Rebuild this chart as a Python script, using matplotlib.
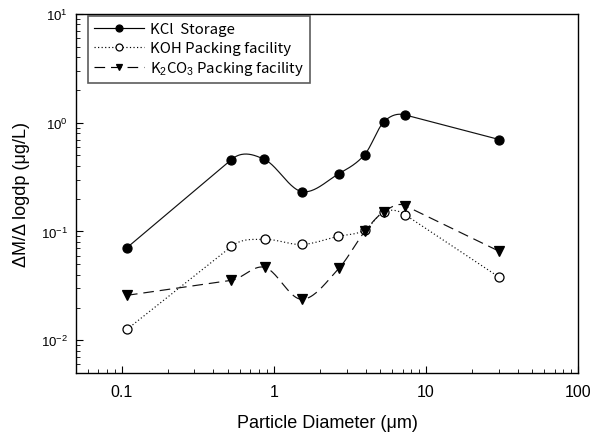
"""Particle size distribution of potassium salts, log-log plot."""
import matplotlib
matplotlib.use('Agg')
import matplotlib.pyplot as plt
import numpy as np

# particle diameter (um) for each stage
kcl_dp = [0.108, 0.524, 0.865, 1.52, 2.67, 3.95, 5.28, 7.26, 30.3]
kcl_val = [0.071, 0.458, 0.46, 0.233, 0.34, 0.51, 1.02, 1.18, 0.70]

koh_dp = [0.108, 0.524, 0.87, 1.52, 2.62, 3.95, 5.28, 7.26, 30.3]
koh_val = [0.0126, 0.0728, 0.0846, 0.076, 0.09, 0.103, 0.152, 0.143, 0.0379]

k2co3_dp = [0.108, 0.524, 0.87, 1.52, 2.67, 3.95, 5.28, 7.26, 30.3]
k2co3_val = [0.0259, 0.0355, 0.0468, 0.0238, 0.0458, 0.1, 0.152, 0.173, 0.0657]

labels = ['KCl  Storage', 'KOH Packing facility', r'K$_2$CO$_3$ Packing facility']
xticks = [0.1, 1, 10, 100]
xticklabels = ['0.1', '1', '10', '100']


def smooth(x, y, n=40):
    """Smooth curve through the points in log-log space (straight end pieces)."""
    lx = np.log10(x)
    ly = np.log10(y)
    sec = np.diff(ly) / np.diff(lx)
    m = np.zeros_like(lx)
    m[1:-1] = (ly[2:] - ly[:-2]) / (lx[2:] - lx[:-2])
    m[0] = m[1] = sec[0]
    m[-1] = m[-2] = sec[-1]
    xs, ys = [], []
    for i in range(len(lx) - 1):
        h = lx[i + 1] - lx[i]
        t = np.linspace(0, 1, n)
        h00 = 2 * t**3 - 3 * t**2 + 1
        h10 = t**3 - 2 * t**2 + t
        h01 = -2 * t**3 + 3 * t**2
        h11 = t**3 - t**2
        xs.append(lx[i] + t * h)
        ys.append(h00 * ly[i] + h10 * h * m[i] + h01 * ly[i + 1] + h11 * h * m[i + 1])
    return 10 ** np.concatenate(xs), 10 ** np.concatenate(ys)


plt.rcParams['font.family'] = ['Liberation Sans', 'DejaVu Sans']
plt.rcParams['mathtext.fontset'] = 'custom'
plt.rcParams['mathtext.rm'] = 'Liberation Sans'
plt.rcParams['mathtext.it'] = 'Liberation Sans'
fig = plt.figure(figsize=(5.9, 4.39), dpi=100)
ax = fig.add_axes([0.129, 0.148, 0.851, 0.818])

series = [
    (kcl_dp, kcl_val, '-', 'o', 'black'),
    (koh_dp, koh_val, (0, (1, 2)), 'o', 'white'),
    (k2co3_dp, k2co3_val, (0, (9, 5)), 'v', 'black'),
]
handles = []
for (dp, val, ls, mk, fc), lab in zip(series, labels):
    sx, sy = smooth(np.array(dp), np.array(val))
    ax.plot(sx, sy, color='#111111', ls=ls, lw=0.85)
    ax.plot(dp, val, ls='none', marker=mk, ms=6.5, mfc=fc, mec='black', mew=0.9)
    h, = ax.plot([], [], color='black', ls=ls, lw=0.85, marker=mk, ms=5,
                 mfc=fc, mec='black', mew=0.9)
    handles.append(h)

ax.set_xscale('log')
ax.set_yscale('log')
ax.set_xlim(0.05, 100)
ax.set_ylim(0.005, 10)
ax.set_xticks(xticks)
ax.set_xticklabels(xticklabels)
ax.tick_params(which='both', direction='in', top=False, right=False)
ax.tick_params(which='major', length=5, labelsize=11.5)
ax.tick_params(axis='x', which='major', pad=8)
ax.tick_params(axis='y', which='major', labelsize=9.5, pad=6)
ax.tick_params(which='minor', length=3)
for s in ax.spines.values():
    s.set_linewidth(1.0)

ax.set_xlabel('Particle Diameter (\u03bcm)', fontsize=13, labelpad=11)
ax.set_ylabel('\u0394M/\u0394 logdp (\u03bcg/L)', fontsize=13, labelpad=8)

leg = ax.legend(handles, labels, loc='upper left', bbox_to_anchor=(0.024, 0.993),
                prop={'family': ['Noto Sans CJK KR', 'DejaVu Sans'], 'size': 10.8},
                frameon=True, fancybox=False, edgecolor='#333333',
                handlelength=3.3, handletextpad=0.4, labelspacing=0.3,
                borderpad=0.4, borderaxespad=0.0)
leg.get_frame().set_linewidth(1.2)

fig.savefig('out.png', dpi=100)
